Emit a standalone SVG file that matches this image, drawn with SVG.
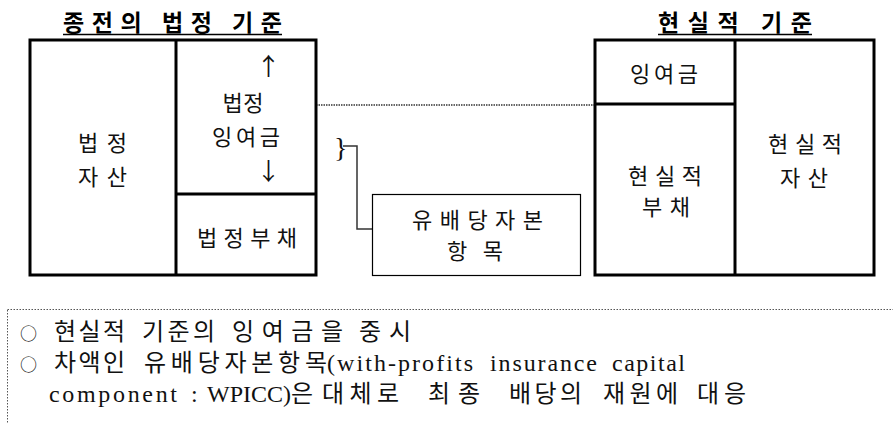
<svg xmlns="http://www.w3.org/2000/svg" width="893" height="423" viewBox="0 0 893 423">
<style>
.title{font-family:"Noto Sans CJK KR","Noto Sans",sans-serif;font-weight:bold;font-size:23px;fill:#000}
.lbl{font-family:"Liberation Serif","Noto Sans CJK KR",serif;font-size:22px;fill:#111;text-anchor:middle}
.arr{font-family:"Noto Sans CJK KR",sans-serif;font-size:24px;fill:#111;text-anchor:middle}
.body{font-family:"Liberation Serif","Noto Sans CJK KR",serif;font-size:24px;fill:#111}
.bul{font-family:"Noto Sans CJK KR",sans-serif;font-size:17px}
.box{fill:#fff;stroke:#000;stroke-width:3}
.div{stroke:#000;stroke-width:3;fill:none}
.thin{fill:#fff;stroke:#000;stroke-width:1.2}
.conn{stroke:#333;stroke-width:1.5;fill:none}
.dot{stroke:#333;stroke-width:1.5;stroke-dasharray:1.5 1;fill:none}
.dotbox{stroke:#555;stroke-width:1;stroke-dasharray:1.5 1.5;fill:none}
</style>

<g id="title-left">
<text class="title" x="63" y="31" textLength="219" lengthAdjust="spacing">종전의 법정 기준</text>
<line x1="63" y1="34.5" x2="282" y2="34.5" stroke="#000" stroke-width="1.5"/>
</g>
<g id="title-right">
<text class="title" x="658" y="31" textLength="154" lengthAdjust="spacing">현실적 기준</text>
<line x1="658" y1="34.5" x2="812" y2="34.5" stroke="#000" stroke-width="1.5"/>
</g>

<g id="connectors">
<line class="dot" x1="316" y1="105" x2="596" y2="105"/>
<polyline class="conn" points="343,146 357,146 357,229 372,229"/>
</g>

<g id="legal-balance">
<rect class="box" x="30" y="40" width="286" height="235"/>
<line class="div" x1="176" y1="40" x2="176" y2="275"/>
<line class="div" x1="176" y1="194" x2="316" y2="194"/>
</g>
<g id="legal-assets">
<text class="lbl" x="102.5" y="151" textLength="49" lengthAdjust="spacing">법정</text>
<text class="lbl" x="102.5" y="185" textLength="49" lengthAdjust="spacing">자산</text>
</g>
<g id="legal-surplus">
<text class="arr" x="268.5" y="75">↑</text>
<text class="lbl" x="243" y="111" textLength="41" lengthAdjust="spacing">법정</text>
<text class="lbl" x="246" y="145" textLength="68" lengthAdjust="spacing">잉여금</text>
<text class="arr" x="268.5" y="180">↓</text>
</g>
<g id="legal-liabilities">
<text class="lbl" x="247" y="246" textLength="100" lengthAdjust="spacing">법정부채</text>
</g>

<g id="realistic-balance">
<rect class="box" x="595" y="40" width="279" height="235"/>
<line class="div" x1="735" y1="40" x2="735" y2="275"/>
<line class="div" x1="595" y1="104" x2="735" y2="104"/>
</g>
<g id="realistic-surplus">
<text class="lbl" x="664" y="82" textLength="68" lengthAdjust="spacing">잉여금</text>
</g>
<g id="realistic-liabilities">
<text class="lbl" x="665" y="184" textLength="74" lengthAdjust="spacing">현실적</text>
<text class="lbl" x="666" y="215" textLength="48" lengthAdjust="spacing">부채</text>
</g>
<g id="realistic-assets">
<text class="lbl" x="805" y="152" textLength="74" lengthAdjust="spacing">현실적</text>
<text class="lbl" x="804" y="186" textLength="48" lengthAdjust="spacing">자산</text>
</g>

<g id="brace">
<text x="334" y="157" font-family="Liberation Serif, serif" font-size="28" fill="#111">}</text>
</g>

<g id="wpicc">
<rect class="thin" x="372.5" y="194.5" width="208" height="81"/>
<text class="lbl" x="477.5" y="228" textLength="131" lengthAdjust="spacing">유배당자본</text>
<text class="lbl" x="475" y="259" textLength="56" lengthAdjust="spacing">항목</text>
</g>

<g id="notes">
<rect class="dotbox" x="7.5" y="309.5" width="900" height="130"/>
<text class="body" y="340"><tspan class="bul" x="20">○</tspan><tspan x="54" textLength="71" lengthAdjust="spacing">현실적</tspan><tspan x="142" textLength="73" lengthAdjust="spacing">기준의</tspan><tspan x="232" textLength="111" lengthAdjust="spacing">잉여금을</tspan><tspan x="359" textLength="52" lengthAdjust="spacing">중시</tspan></text>
<text class="body" y="371"><tspan class="bul" x="20">○</tspan><tspan x="54" textLength="71" lengthAdjust="spacing">차액인</tspan><tspan x="144" textLength="183" lengthAdjust="spacing">유배당자본항목</tspan><tspan x="327" textLength="146" lengthAdjust="spacing">(with-profits</tspan><tspan x="490" textLength="107" lengthAdjust="spacing">insurance</tspan><tspan x="612" textLength="73" lengthAdjust="spacing">capital</tspan></text>
<text class="body" y="402"><tspan x="49" textLength="128" lengthAdjust="spacing">component</tspan><tspan x="191">:</tspan><tspan x="207">WPICC)은</tspan><tspan x="322" textLength="77" lengthAdjust="spacing">대체로</tspan><tspan x="428" textLength="52" lengthAdjust="spacing">최종</tspan><tspan x="509" textLength="73" lengthAdjust="spacing">배당의</tspan><tspan x="603" textLength="75" lengthAdjust="spacing">재원에</tspan><tspan x="697" textLength="49" lengthAdjust="spacing">대응</tspan></text>
</g>
</svg>
